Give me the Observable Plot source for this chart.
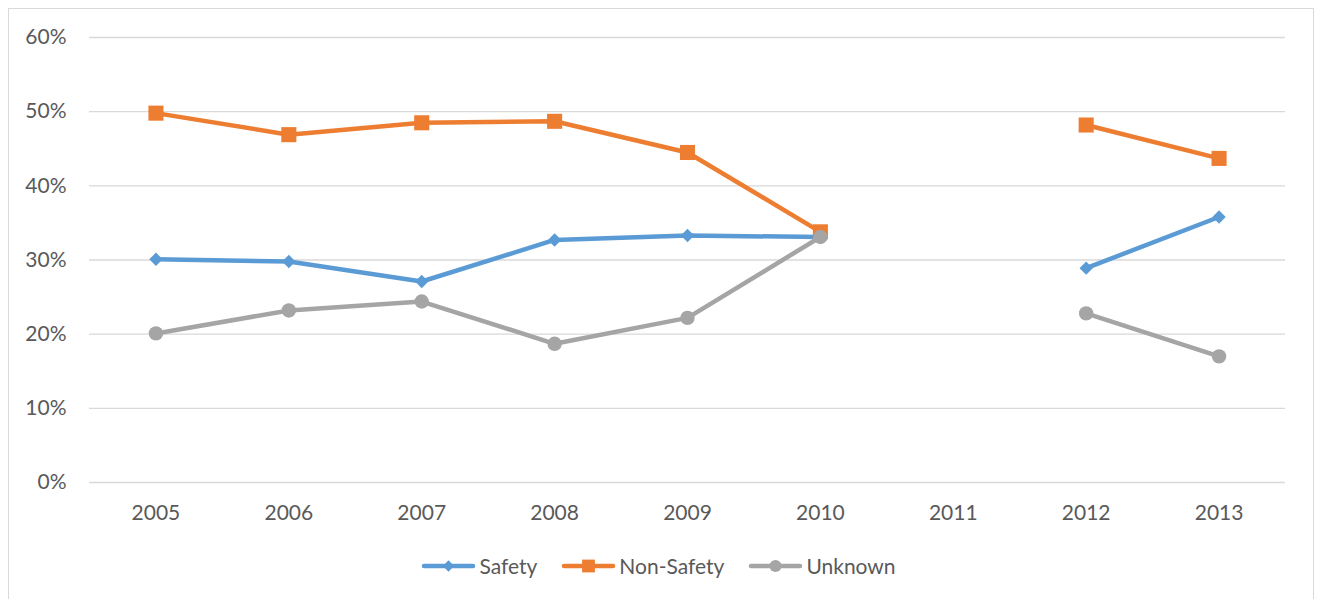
<!DOCTYPE html>
<html><head><meta charset="utf-8">
<script src="https://cdn.jsdelivr.net/npm/d3@7"></script>
<script src="https://cdn.jsdelivr.net/npm/@observablehq/plot@0.6"></script>
<style>
body{margin:0;background:#fff;font-family:Lato,"Open Sans",sans-serif;}
#wrap{position:relative;width:1317px;height:599px;overflow:hidden;background:#fff;}
#frame{position:absolute;left:8px;top:8px;width:1304px;height:640px;border:1px solid #d9d9d9;pointer-events:none;}
#chart{position:absolute;left:0;top:0;}
#legend{position:absolute;left:0;top:553px;width:1317px;display:flex;justify-content:center;align-items:center;color:#595959;font-size:21px;}
.item{display:flex;align-items:center;margin:0 12px;}
.item svg{margin-right:3px;}
</style>
</head><body>
<div id="wrap"><div id="frame"></div><div id="chart"></div><div id="legend"></div></div>
<script>
const years = ["2005","2006","2007","2008","2009","2010","2011","2012","2013"];
const safety = [30.1, 29.8, 27.1, 32.7, 33.3, 33.1, null, 28.9, 35.8];
const nonSafety = [49.8, 46.9, 48.5, 48.7, 44.5, 33.8, null, 48.2, 43.7];
const unknown = [20.1, 23.2, 24.4, 18.7, 22.2, 33.1, null, 22.8, 17.0];
const yTicks = [0, 10, 20, 30, 40, 50, 60];
const seriesNames = ["Safety", "Non-Safety", "Unknown"];
const seriesValues = [safety, nonSafety, unknown];
const seriesColors = ["#5B9BD5", "#ED7D31", "#A5A5A5"];
const seriesSymbols = ["diamond2", "square", "circle"];
const seriesR = [6, 8.5, 7.2];

const marks = [
  Plot.gridY(yTicks, {stroke: "#d9d9d9", strokeOpacity: 1, strokeWidth: 1.3}),
  Plot.axisY(yTicks, {tickSize: 0, tickPadding: 23, tickFormat: d => d + "%", fontSize: 21}),
  Plot.axisX({tickSize: 0, tickPadding: 23, fontSize: 21})
];
seriesNames.forEach((name, i) => {
  const rows = years.map((y, j) => ({year: y, value: seriesValues[i][j]}));
  marks.push(Plot.line(rows, {x: "year", y: "value", stroke: seriesColors[i], strokeWidth: 4.5, strokeLinejoin: "round", strokeLinecap: "round"}));
  marks.push(Plot.dot(rows.filter(d => d.value != null), {x: "year", y: "value", symbol: () => seriesSymbols[i], r: seriesR[i], fill: seriesColors[i], stroke: "none"}));
});

const chart = Plot.plot({
  width: 1317, height: 540,
  marginLeft: 89, marginRight: 32, marginTop: 37, marginBottom: 58,
  style: {color: "#595959", fontFamily: "Lato, 'Open Sans', sans-serif", background: "transparent"},
  x: {type: "point", domain: years, padding: 0.5, round: false, label: null},
  y: {domain: [0, 60], label: null},
  symbol: {type: "identity"},
  marks
});
document.getElementById("chart").appendChild(chart);

const legend = d3.select("#legend");
seriesNames.forEach((name, i) => {
  const item = legend.append("div").attr("class", "item");
  const svg = item.append("svg").attr("width", 55).attr("height", 20);
  svg.append("line").attr("x1", 3).attr("x2", 52).attr("y1", 10).attr("y2", 10)
    .attr("stroke", seriesColors[i]).attr("stroke-width", 4.5).attr("stroke-linecap", "round");
  const sym = {diamond2: d3.symbolDiamond2, square: d3.symbolSquare, circle: d3.symbolCircle}[seriesSymbols[i]];
  const rr = seriesR[i] * 0.85;
  svg.append("path").attr("transform", "translate(27.5,10)")
    .attr("d", d3.symbol(sym, Math.PI * rr * rr)()).attr("fill", seriesColors[i]);
  item.append("span").text(name);
});
</script>
</body></html>
